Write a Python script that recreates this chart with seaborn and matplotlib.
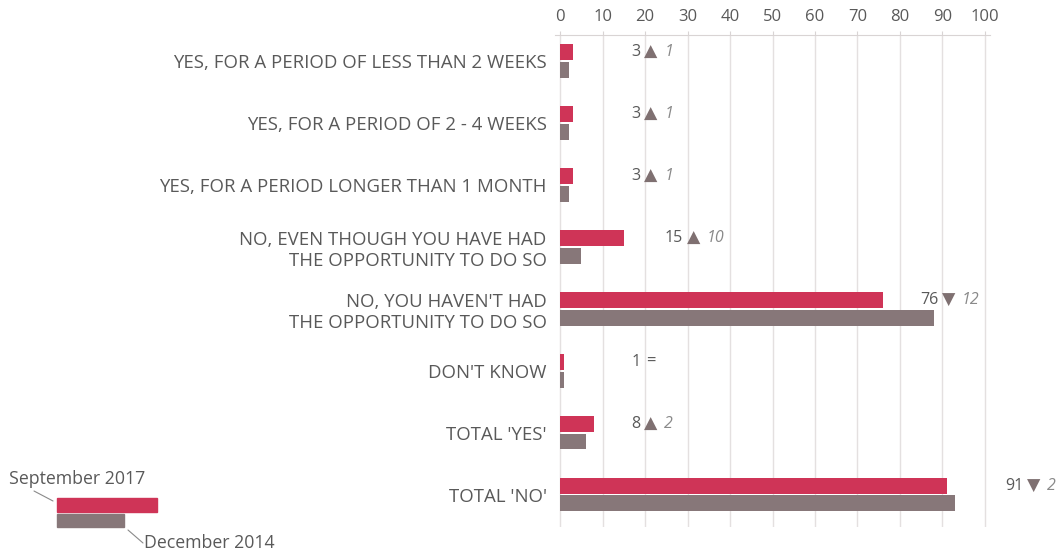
import pandas as pd
import matplotlib.pyplot as plt
import seaborn as sns
from matplotlib.patches import Rectangle
from matplotlib.lines import Line2D

# Data
categories = [
    "YES, FOR A PERIOD OF LESS THAN 2 WEEKS",
    "YES, FOR A PERIOD OF 2 - 4 WEEKS",
    "YES, FOR A PERIOD LONGER THAN 1 MONTH",
    "NO, EVEN THOUGH YOU HAVE HAD\nTHE OPPORTUNITY TO DO SO",
    "NO, YOU HAVEN'T HAD\nTHE OPPORTUNITY TO DO SO",
    "DON'T KNOW",
    "TOTAL 'YES'",
    "TOTAL 'NO'",
]
sep_2017 = [3, 3, 3, 15, 76, 1, 8, 91]
dec_2014 = [2, 2, 2, 5, 88, 1, 6, 93]
periods = ["September 2017", "December 2014"]
x_ticks = [0, 10, 20, 30, 40, 50, 60, 70, 80, 90, 100]

# where the value labels sit (data units)
label_x = [19, 19, 19, 29, 89, 19, 19, 109]

RED = "#cf3457"
GREY = "#877779"
TEXT = "#595959"

df = pd.DataFrame({
    "category": categories * 2,
    "value": sep_2017 + dec_2014,
    "period": [periods[0]] * len(categories) + [periods[1]] * len(categories),
})

sns.set_style("white")
plt.rcParams["font.family"] = ["Open Sans", "DejaVu Sans"]

fig = plt.figure(figsize=(10.63, 5.53), dpi=100)
ax = fig.add_axes([555 / 1063, 26 / 553, 435 / 1063, 492 / 553])

sns.barplot(data=df, y="category", x="value", hue="period", orient="h",
            palette=[RED, GREY], saturation=1, width=0.56, gap=0.08,
            legend=False, linewidth=0, ax=ax)

ax.set_xlim(-1.2, 101.2)
ax.set_ylim(7.52, -0.42)
ax.xaxis.tick_top()
ax.set_xticks(x_ticks)
ax.tick_params(axis="x", colors="#d9d4d4", labelcolor=TEXT, labelsize=12,
               length=3, pad=4)
ax.tick_params(axis="y", length=0, labelcolor=TEXT, labelsize=13.4, pad=6)
for lab in ax.get_yticklabels():
    lab.set_horizontalalignment("right")
    lab.set_multialignment("right")
ax.set_xlabel("")
ax.set_ylabel("")
ax.grid(axis="x", color="#e4e0e0", linewidth=1)
ax.set_axisbelow(True)
for side in ["right", "bottom", "left"]:
    ax.spines[side].set_visible(False)
ax.spines["top"].set_color("#d9d4d4")

# value labels with change markers
for i, (now, before) in enumerate(zip(sep_2017, dec_2014)):
    y = i - 0.14
    xx = label_x[i]
    ax.annotate(str(now), (xx, y), ha="right", va="center", fontsize=11.5,
                color=TEXT, annotation_clip=False)
    diff = now - before
    if diff == 0:
        ax.annotate("=", (xx, y), xytext=(4, 0), textcoords="offset points",
                    ha="left", va="center", fontsize=12, color=TEXT,
                    annotation_clip=False)
    else:
        sym = "\u25B2" if diff > 0 else "\u25BC"
        ax.annotate(sym, (xx, y), xytext=(2.5, 0), textcoords="offset points",
                    ha="left", va="center", fontsize=12.5, color="#7f7071",
                    family=["DejaVu Sans"], annotation_clip=False)
        ax.annotate(str(abs(diff)), (xx, y), xytext=(17, 0),
                    textcoords="offset points", ha="left", va="center",
                    fontsize=11.5, color="#8a8a8a", style="italic",
                    annotation_clip=False)

# hand-drawn legend bottom left
W, H = 1063, 553
fig.patches.append(Rectangle((57 / W, 1 - 512 / H), 100 / W, 14 / H,
                             color=RED, transform=fig.transFigure))
fig.patches.append(Rectangle((57 / W, 1 - 527 / H), 67 / W, 13 / H,
                             color=GREY, transform=fig.transFigure))
fig.text(9 / W, 1 - 479 / H, periods[0], fontsize=12.8, color=TEXT,
         va="center", ha="left")
fig.text(144 / W, 1 - 543 / H, periods[1], fontsize=12.8, color=TEXT,
         va="center", ha="left")
fig.lines.append(Line2D([34 / W, 53 / W], [1 - 491 / H, 1 - 501 / H],
                        color="#8a8a8a", linewidth=0.8,
                        transform=fig.transFigure))
fig.lines.append(Line2D([128 / W, 143 / W], [1 - 530 / H, 1 - 543 / H],
                        color="#8a8a8a", linewidth=0.8,
                        transform=fig.transFigure))

fig.savefig("out.png", dpi=100)
